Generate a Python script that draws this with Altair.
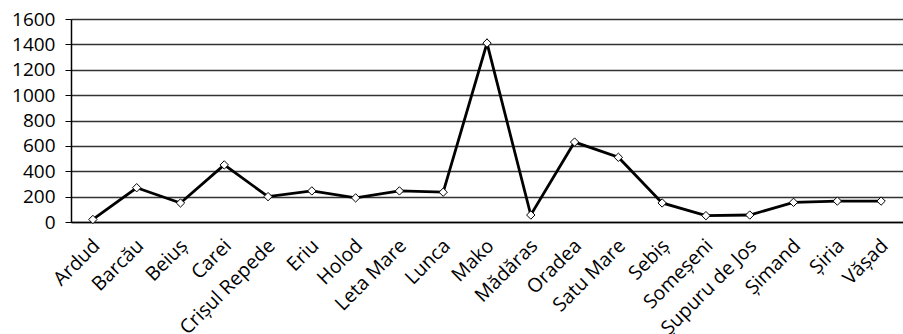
import altair as alt
import pandas as pd

# Locations along the river basin
stations = [
    "Ardud", "Barcău", "Beiuș", "Carei", "Crișul Repede", "Eriu", "Holod",
    "Leta Mare", "Lunca", "Mako", "Mădăras", "Oradea", "Satu Mare", "Sebiș",
    "Someșeni", "Șupuru de Jos", "Șimand", "Șiria", "Vășad",
]
values = [20, 270, 150, 450, 200, 245, 190, 245, 235, 1410, 55, 630, 510,
          150, 50, 55, 155, 165, 165]
y_ticks = [0, 200, 400, 600, 800, 1000, 1200, 1400, 1600]

df = pd.DataFrame({"station": stations, "value": values})

FONT = "Open Sans"

x_enc = alt.X(
    "station:N",
    sort=None,
    title=None,
    scale=alt.Scale(type="point", padding=0.5),
    axis=alt.Axis(
        labelAngle=-45,
        labelFontSize=19.5,
        labelFont=FONT,
        labelColor="black",
        labelPadding=14,
        labelOffset=-3,
        labelAlign="right",
        labelBaseline="top",
        ticks=False,
        domainColor="black",
        domainWidth=1.5,
        grid=False,
        labelOverlap=False,
    ),
)
y_enc = alt.Y(
    "value:Q",
    title=None,
    scale=alt.Scale(domain=[0, 1600], nice=False, zero=True),
    axis=alt.Axis(
        values=y_ticks,
        format="d",
        labelFontSize=19,
        labelFont=FONT,
        labelColor="black",
        labelPadding=10,
        tickSize=6,
        tickColor="black",
        tickWidth=1,
        domainColor="black",
        domainWidth=1.5,
        grid=True,
        gridColor="#333333",
        gridWidth=1.6,
    ),
)

base = alt.Chart(df).encode(x=x_enc, y=y_enc)

line = base.mark_line(color="black", strokeWidth=2.8)
points = base.mark_point(
    shape="diamond", filled=True, fill="white", stroke="black",
    strokeWidth=1, size=70, opacity=1,
)

chart = (
    alt.layer(line, points)
    .properties(
        width=832,
        height=203,
        autosize=alt.AutoSizeParams(type="none"),
        padding={"left": 71, "top": 19, "right": 0, "bottom": 112},
    )
    .configure_view(fill="#d9d9d9", stroke="black", strokeWidth=1)
    .configure(background="white")
)

chart.save("out.html", embed_options={"renderer": "svg", "actions": False})
